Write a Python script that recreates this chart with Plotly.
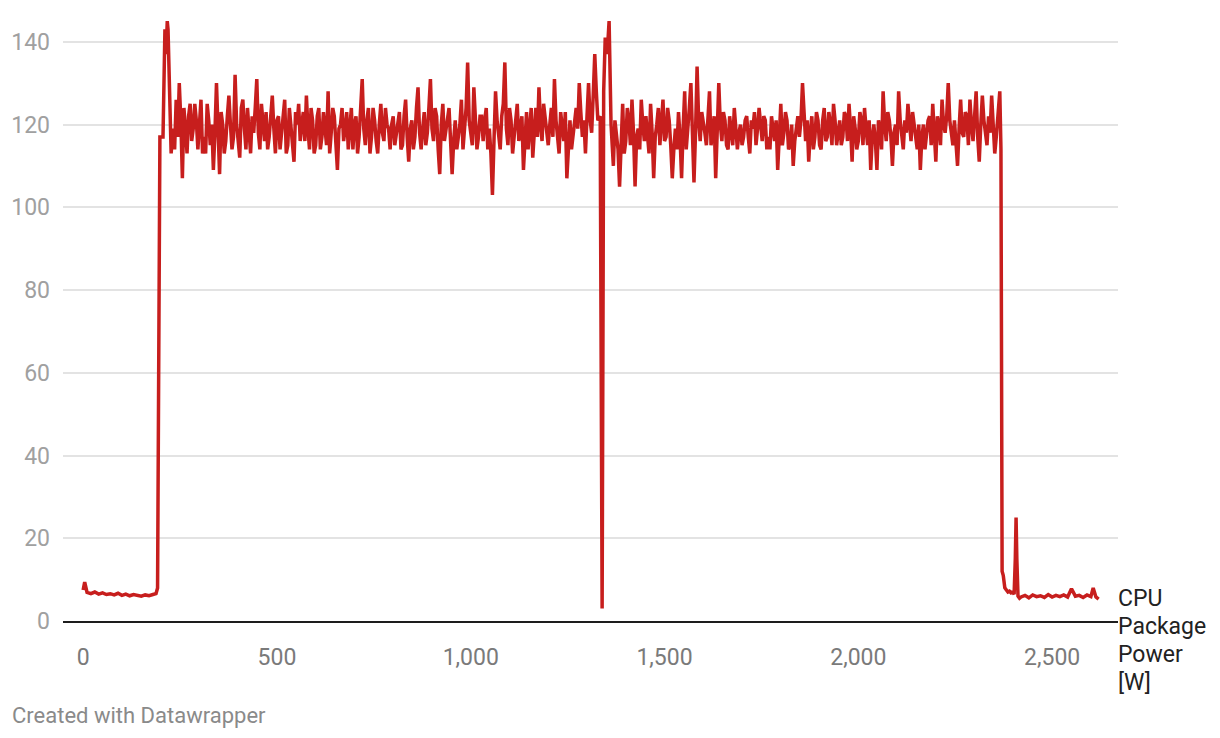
import plotly.graph_objects as go

# ---- data (seconds, CPU package power in W) ----
idle_start_t = [0, 4, 10, 20, 30, 40, 50, 60, 70, 80, 90, 100, 110, 120, 130, 140, 150, 160, 170, 180, 188]
idle_start_w = [7.5, 9.4, 6.9, 6.6, 7.0, 6.5, 6.8, 6.4, 6.6, 6.3, 6.7, 6.2, 6.5, 6.1, 6.4, 6.2, 6.0, 6.3, 6.1, 6.4, 6.6]

ramp_up_t = [192, 195, 198, 206, 209, 211, 214, 217, 219, 223, 227]
ramp_up_w = [8, 60, 117, 117, 143, 143, 137, 145, 143, 128, 113]

# first load phase: samples every 4 s starting at t=232 (main samples / in-between samples)
load1_start = 232
load1_main_w = [
    119, 126, 130, 107, 119, 122, 116, 125, 114, 126,
    117, 125, 115, 109, 130, 108, 120, 116, 127, 114,
    132, 116, 124, 119, 124, 113, 118, 131, 114, 121,
    123, 117, 127, 113, 122, 118, 126, 115, 120, 111,
    120, 116, 123, 127, 114, 121, 115, 124, 117, 119,
    128, 118, 122, 109, 120, 116, 123, 118, 114, 122,
    117, 131, 115, 124, 117, 121, 113, 125, 116, 120,
    114, 122, 118, 123, 115, 126, 111, 121, 117, 129,
    114, 123, 118, 131, 116, 122, 108, 125, 119, 124,
    108, 121, 117, 126, 119, 135, 118, 129, 114, 122,
    116, 124, 119, 103, 128, 117, 122, 135, 115, 121,
    117, 125, 119, 109, 123, 118, 112, 124, 129, 116,
    122, 115, 124, 131, 117, 123, 116, 107, 121, 118,
    124, 130, 117, 113, 130, 118, 137, 121,
]
load1_mid_w = [
    114, 117, 121, 124, 113, 125, 119, 121, 120, 113,
    113, 121, 120, 118, 119, 123, 113, 122, 120, 117,
    120, 112, 126, 114, 118, 122, 124, 118, 125, 116,
    114, 121, 119, 121, 114, 123, 113, 124, 116, 123,
    125, 120, 116, 119, 124, 113, 122, 114, 123, 115,
    113, 124, 114, 119, 124, 119, 114, 124, 120, 113,
    123, 119, 121, 113, 124, 116, 120, 118, 124, 119,
    120, 115, 121, 114, 122, 117, 119, 114, 124, 118,
    119, 115, 124, 119, 124, 114, 120, 116, 122, 116,
    116, 114, 120, 114, 124, 121, 115, 120, 117, 122,
    121, 114, 113, 116, 121, 114, 125, 119, 124, 113,
    121, 116, 122, 117, 114, 124, 119, 117, 120, 125,
    118, 120, 117, 121, 113, 120, 123, 114, 114, 120,
    119, 123, 121, 122, 121, 127, 128,
]

dip_t = [1334, 1339, 1343, 1347, 1352, 1357, 1362]
dip_w = [122, 3, 128, 141, 137, 145, 120]

# second load phase: samples every 4 s starting at t=1368
load2_start = 1368
load2_main_w = [
    110, 118, 105, 125, 116, 121, 126, 105, 119, 126,
    116, 117, 125, 107, 120, 115, 126, 117, 121, 107,
    119, 123, 107, 128, 118, 130, 106, 134, 116, 121,
    115, 128, 118, 107, 130, 116, 121, 114, 119, 124,
    114, 120, 117, 122, 113, 119, 115, 124, 116, 121,
    117, 122, 116, 109, 125, 118, 121, 115, 110, 120,
    117, 130, 116, 111, 122, 117, 121, 114, 124, 117,
    120, 125, 115, 121, 117, 122, 125, 111, 119, 116,
    121, 124, 115, 109, 120, 109, 119, 128, 116, 121,
    110, 120, 128, 117, 121, 125, 116, 120, 114, 109,
    120, 117, 122, 125, 111, 120, 126, 118, 130, 117,
    121, 110, 126, 117, 122, 126, 116, 128, 111, 127,
    118, 122, 127, 113, 121,
]
load2_mid_w = [
    121, 114, 118, 113, 124, 115, 118, 117, 114, 120,
    122, 113, 118, 117, 124, 121, 116, 124, 115, 114,
    114, 117, 119, 114, 124, 119, 118, 121, 123, 118,
    121, 115, 122, 118, 120, 123, 115, 122, 115, 119,
    118, 115, 121, 117, 121, 123, 119, 120, 122, 114,
    114, 119, 121, 117, 115, 123, 114, 120, 116, 122,
    121, 122, 121, 118, 114, 123, 115, 121, 116, 123,
    115, 121, 118, 115, 123, 116, 119, 122, 114, 123,
    115, 119, 121, 117, 116, 121, 114, 120, 123, 117,
    118, 115, 121, 114, 118, 121, 123, 116, 120, 117,
    114, 121, 115, 119, 122, 115, 120, 122, 121, 115,
    116, 119, 118, 123, 115, 120, 122, 117, 120, 121,
    115, 118, 121, 117,
]

ramp_down_t = [2365, 2368, 2371, 2374, 2378, 2382, 2386, 2390, 2394, 2398, 2402, 2405, 2407, 2409, 2412, 2416]
ramp_down_w = [128, 114, 12, 11, 8, 7.5, 7, 7.2, 6.8, 7, 6.5, 15, 25, 15, 6, 5.5]

idle_end_t = [2420, 2430, 2440, 2450, 2460, 2470, 2480, 2490, 2500, 2510, 2520, 2530, 2540, 2550, 2560, 2570, 2580, 2590, 2600, 2606, 2613, 2620]
idle_end_w = [5.8, 6.2, 5.6, 6.3, 5.9, 6.1, 5.7, 6.4, 5.8, 6.2, 5.9, 6.3, 5.8, 7.8, 6.0, 6.2, 5.7, 6.3, 5.9, 8.0, 5.8, 5.3]

series_label_lines = ["CPU", "Package", "Power", "[W]"]
x_ticks = [0, 500, 1000, 1500, 2000, 2500]
y_ticks = [0, 20, 40, 60, 80, 100, 120, 140]
footer = "Created with Datawrapper"


# ---- assemble ----
def interleave(start, main, mid):
    vals = []
    for i, v in enumerate(main):
        vals.append(v)
        if i < len(mid):
            vals.append(mid[i])
    ts = [start + 4 * k for k in range(len(vals))]
    return ts, vals


load1_t, load1_w = interleave(load1_start, load1_main_w, load1_mid_w)
load2_t, load2_w = interleave(load2_start, load2_main_w, load2_mid_w)
t = idle_start_t + ramp_up_t + load1_t + dip_t + load2_t + ramp_down_t + idle_end_t
w = idle_start_w + ramp_up_w + load1_w + dip_w + load2_w + ramp_down_w + idle_end_w

fig = go.Figure()
fig.add_trace(go.Scatter(
    x=t, y=w, mode="lines",
    line=dict(color="#c71e1d", width=3.5),
    hoverinfo="skip", showlegend=False,
))

FONT = "Roboto"
annotations = []
for i, line in enumerate(series_label_lines):
    annotations.append(dict(
        x=1, xref="paper", y=w[-1], yref="y", text=line,
        xanchor="left", yanchor="middle", align="left", showarrow=False,
        xshift=-2, yshift=1 - 28 * i,
        font=dict(family=FONT, size=23, color="#222222")))
annotations.append(dict(
    x=-53 / 1055, xref="paper", y=(621 - 715) / 602, yref="paper",
    text=footer, xanchor="left", yanchor="middle",
    showarrow=False, font=dict(family=FONT, size=22, color="#8a8a8a")))

fig.update_layout(
    width=1220, height=738,
    margin=dict(l=63, r=102, t=19, b=117),
    paper_bgcolor="white", plot_bgcolor="white",
    font=dict(family=FONT, size=23, color="#333333"),
    xaxis=dict(
        range=[-52, 2670], tickvals=x_ticks, tickformat=",",
        showgrid=False, zeroline=False, automargin=False,
        showline=True, linecolor="#1d1d1d", linewidth=2,
        ticks="", ticklabelstandoff=14,
        tickfont=dict(family=FONT, size=23, color="#7a7a7a"),
    ),
    yaxis=dict(
        range=[0, 145.5], tickvals=y_ticks, automargin=False,
        showgrid=True, gridcolor="#e3e3e3", gridwidth=1.5,
        zeroline=False, showline=False, ticks="",
        ticklabelstandoff=12,
        tickfont=dict(family=FONT, size=23, color="#a0a0a0"),
    ),
    annotations=annotations,
)

fig.write_html("out.html", config={"displayModeBar": False},
               post_script="document.body.style.margin='0';")
